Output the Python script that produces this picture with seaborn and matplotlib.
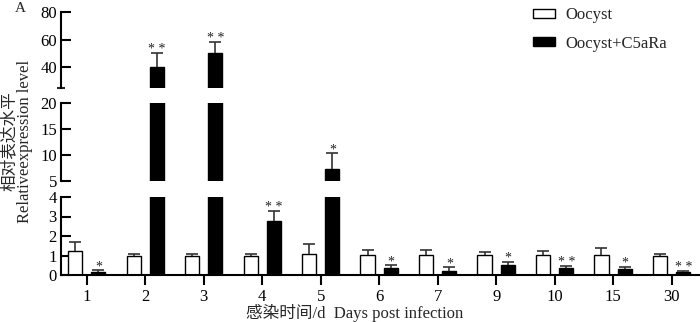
import numpy as np
import pandas as pd
import matplotlib
matplotlib.use("Agg")
import matplotlib.pyplot as plt
from matplotlib.patches import Patch
from matplotlib.ticker import FixedLocator
import seaborn as sns

# ---- data ----
days = ["1", "2", "3", "4", "5", "6", "7", "9", "10", "15", "30"]
groups = ["Oocyst", "Oocyst+C5aRa"]
oocyst_mean = [1.25, 0.97, 0.97, 0.97, 1.08, 1.02, 1.02, 1.02, 1.02, 1.02, 0.97]
oocyst_sd = [0.46, 0.12, 0.09, 0.13, 0.49, 0.28, 0.28, 0.18, 0.21, 0.35, 0.12]
c5ara_mean = [0.15, 40.0, 50.0, 2.77, 7.25, 0.38, 0.19, 0.51, 0.38, 0.31, 0.17]
c5ara_sd = [0.10, 10.4, 8.4, 0.53, 3.05, 0.13, 0.20, 0.17, 0.08, 0.10, 0.05]
signif = ["*", "**", "**", "**", "*", "*", "*", "*", "**", "*", "**"]
seg_limits = [(25, 80), (5, 20), (0, 4)]
seg_ticks = [[40, 60, 80], [5, 10, 15, 20], [0, 1, 2, 3, 4]]

sns.set_theme(style="white")
plt.rcParams['font.family'] = ['Liberation Serif', 'Noto Sans CJK SC']
plt.rcParams['axes.linewidth'] = 1.5

df = pd.DataFrame({
    "day": days * 2,
    "group": [groups[0]] * len(days) + [groups[1]] * len(days),
    "value": oocyst_mean + c5ara_mean,
})

W, H = 700, 322
fig = plt.figure(figsize=(W / 100, H / 100), dpi=100)


def px_axes(top, bottom):
    return fig.add_axes([61 / W, 1 - bottom / H, (W - 61) / W - 0.002, (bottom - top) / H])


axes = [px_axes(12, 88), px_axes(103, 181), px_axes(197, 275)]

for i, (ax, (lo, hi), ticks) in enumerate(zip(axes, seg_limits, seg_ticks)):
    sns.barplot(data=df, x="day", y="value", hue="group", order=days, hue_order=groups,
                palette=["white", "black"], saturation=1, edgecolor="black", linewidth=1,
                width=0.8, gap=0.4, errorbar=None, legend=False, ax=ax)
    ax.set_ylim(lo, hi)
    ax.set_xlim(-0.44, 10.46)
    ax.set_xlabel("")
    ax.set_ylabel("")
    ax.set_yticks(ticks)
    ax.yaxis.set_minor_locator(FixedLocator([lo, hi]))
    ax.tick_params(axis='y', which='major', direction='in', length=7, width=1.5,
                   labelsize=12, pad=3, colors='black', left=True)
    ax.tick_params(axis='y', which='minor', direction='inout', length=6, width=1.5, left=True)
    for s in ["top", "right"]:
        ax.spines[s].set_visible(False)
    ax.spines["left"].set_color("black")
    if i < 2:
        ax.spines["bottom"].set_visible(False)
        ax.tick_params(axis='x', bottom=False, labelbottom=False)
    else:
        ax.spines["bottom"].set_color("black")
        ax.tick_params(axis='x', direction='out', length=7, width=1.5, labelsize=12,
                       pad=3, bottom=True, colors='black')

    for bars, means, sds in [(ax.containers[0], oocyst_mean, oocyst_sd),
                             (ax.containers[1], c5ara_mean, c5ara_sd)]:
        xs = [b.get_x() + b.get_width() / 2 for b in bars]
        eb = ax.errorbar(xs, means, yerr=[np.zeros(len(sds)), sds], fmt='none',
                         ecolor='#333333', elinewidth=1.2, capsize=4, capthick=1.2, zorder=1)
        # keep only the upper cap
        eb[1][0].set_visible(False)

    xs_black = [b.get_x() + b.get_width() / 2 for b in ax.containers[1]]
    for x, m, s, lab in zip(xs_black, c5ara_mean, c5ara_sd, signif):
        top = m + s
        if lo <= top <= hi:
            ax.annotate(" ".join(lab), (x, top), xytext=(0, 0), textcoords="offset points",
                        ha='center', va='baseline', fontsize=10, color='#222222',
                        annotation_clip=False)

fig.legend(handles=[Patch(facecolor='white', edgecolor='black', linewidth=1, label=groups[0]),
                    Patch(facecolor='black', edgecolor='black', linewidth=1, label=groups[1])],
           loc='upper left', bbox_to_anchor=(533 / W, 1 - 7 / H), frameon=False, fontsize=12,
           handlelength=1.3, handleheight=0.45, handletextpad=0.65, labelspacing=0.75,
           borderpad=0, borderaxespad=0)

fig.text(355 / W, 1 - 313 / H, "感染时间/d  Days post infection", ha='center', va='center',
         fontsize=12)
fig.text(10 / W, 1 - 141 / H, "相对表达水平", rotation=90, ha='center', va='center', fontsize=12)
fig.text(25 / W, 1 - 141 / H, "Relativeexpression level", rotation=90, ha='center', va='center',
         fontsize=12)
fig.text(20 / W, 1 - 9 / H, "A", ha='center', va='center', fontsize=11)

fig.savefig("out.png", dpi=100)
